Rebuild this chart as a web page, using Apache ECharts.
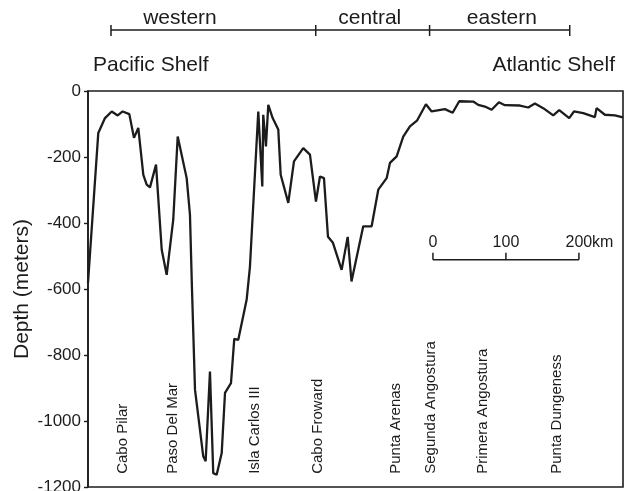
<!DOCTYPE html>
<html>
<head>
<meta charset="utf-8">
<script src="https://cdn.jsdelivr.net/npm/echarts@6/dist/echarts.min.js"></script>
<style>
  html, body { margin: 0; padding: 0; background: #ffffff; }
  #chart { width: 633px; height: 491px; }
</style>
</head>
<body>
<div id="chart"></div>
<script>
// Bathymetric profile along the Strait of Magellan, Pacific shelf to Atlantic shelf.
// Along-strait distance (km from the western end of the profile)
const distanceKm = [
  0, 14.1, 23.3, 32.5, 34.7, 40.7, 47.5, 56.6, 63.0, 68.9,
  75.8, 80.4, 84.9, 93.2, 101.0, 107.8, 116.8, 122.9, 135.2, 139.7,
  142.5, 146.6, 157.9, 161.2, 167.1, 171.6, 176.3, 183.2, 187.7, 195.9,
  200.4, 205.9, 217.4, 221.9, 233.3, 238.8, 240.1, 243.8, 247.0, 253.0,
  260.7, 264.0, 274.4, 282.2, 294.9, 304.1, 312.3, 317.8, 323.3, 328.8,
  335.6, 347.5, 355.8, 361.0, 377.1, 388.6, 397.7, 409.2, 413.7, 422.9,
  431.9, 441.1, 450.7, 463.0, 470.8, 489.0, 499.6, 508.6, 527.8, 534.7,
  543.8, 553.0, 563.0, 571.2, 591.8, 603.2, 612.3, 623.7, 637.4, 645.6,
  659.3, 665.8, 678.5, 694.5, 696.8, 708.2, 721.9, 733
];
// Water depth (m) at each distance
const depthM = [
  -581, -127, -82, -62, -57, -74, -62, -70, -142, -112,
  -254, -284, -292, -223, -481, -557, -390, -138, -264, -375,
  -602, -905, -1107, -1122, -850, -1158, -1163, -1097, -915, -885,
  -751, -754, -632, -532, -62, -289, -72, -168, -42, -82,
  -117, -254, -339, -213, -173, -193, -335, -259, -264, -442,
  -460, -542, -442, -577, -410, -410, -299, -264, -218, -198,
  -138, -107, -90, -40, -62, -55, -66, -31, -32, -42,
  -47, -57, -34, -43, -44, -50, -38, -52, -74, -58,
  -82, -62, -67, -79, -52, -72, -74, -80
];

// Depth axis ticks
const depthMin = -1200;
const depthMax = 0;
const depthStep = 200;
const distanceMax = 733;

// Sections of the strait (boundaries in km) and their names
const sectionBoundsKm = [31.5, 312, 468, 660];
const sectionNames = ['western', 'central', 'eastern'];
const sectionLabelKm = [126, 386, 567];

// Shelf names at both ends
const shelfNames = ['Pacific Shelf', 'Atlantic Shelf'];

// Place names along the strait
const stationNames = [
  'Cabo Pilar', 'Paso Del Mar', 'Isla Carlos III', 'Cabo Froward',
  'Punta Arenas', 'Segunda Angostura', 'Primera Angostura', 'Punta Dungeness'
];
const stationKm = [47.9, 116.4, 228.8, 315, 421.9, 469.9, 541, 642.5];
const stationBaseDepth = -1160;

// Distance scale bar
const scaleBarStartKm = 472.6;
const scaleBarTicks = [0, 100, 200];
const scaleBarUnit = 'km';
const scaleBarDepth = -511;

const FONT = "'Liberation Sans', Arial, Helvetica, sans-serif";
const INK = '#1c1c1c';

const chart = echarts.init(document.getElementById('chart'), null, { renderer: 'canvas' });

const profile = distanceKm.map((d, i) => [d, depthM[i]]);

chart.setOption({
  animation: false,
  backgroundColor: '#ffffff',
  grid: {
    left: 88, right: 10, top: 91, bottom: 4,
    containLabel: false, outerBoundsMode: 'none',
    show: true, borderColor: INK, borderWidth: 1.6, backgroundColor: 'transparent'
  },
  xAxis: {
    type: 'value', min: 0, max: distanceMax,
    axisLine: { show: false }, axisTick: { show: false },
    axisLabel: { show: false }, splitLine: { show: false }
  },
  yAxis: {
    type: 'value', min: depthMin, max: depthMax, interval: depthStep,
    name: 'Depth (meters)', nameLocation: 'middle', nameRotate: 90, nameGap: 55,
    nameMoveOverlap: false,
    nameTextStyle: { fontFamily: FONT, fontSize: 21, color: INK },
    axisLine: { show: true, lineStyle: { color: INK, width: 1.6 } },
    axisTick: { show: true, inside: false, length: 4, lineStyle: { color: INK, width: 1.4 } },
    axisLabel: { fontFamily: FONT, fontSize: 17, color: INK, margin: 7, formatter: v => String(v) },
    splitLine: { show: false }
  },
  series: [{
    type: 'line',
    data: profile,
    showSymbol: false,
    lineStyle: { color: INK, width: 2.3 },
    z: 3
  }]
});

const px = km => chart.convertToPixel({ gridIndex: 0 }, [km, 0])[0];
const py = d => chart.convertToPixel({ gridIndex: 0 }, [0, d])[1];

const g = [];
const line = (x1, y1, x2, y2, w) => g.push({
  type: 'line', silent: true,
  shape: { x1, y1, x2, y2 },
  style: { stroke: INK, lineWidth: w || 1.5 }
});
const text = (t, x, y, size, align, rot) => g.push({
  type: 'text', silent: true, x, y, rotation: rot || 0,
  style: { text: t, fontFamily: FONT, fontSize: size, fill: INK, align: align || 'center', verticalAlign: 'middle' }
});

// Section bar above the plot
const barY = 30;
line(px(sectionBoundsKm[0]), barY, px(sectionBoundsKm[sectionBoundsKm.length - 1]), barY, 1.5);
sectionBoundsKm.forEach(k => line(px(k), barY - 5, px(k), barY + 6, 1.5));
sectionNames.forEach((n, i) => text(n, px(sectionLabelKm[i]), 18, 21, 'center'));

// Shelf labels
text(shelfNames[0], px(0) + 5, 65, 21, 'left');
text(shelfNames[1], px(distanceMax) - 8, 65, 21, 'right');

// Vertical place names
stationNames.forEach((n, i) => text(n, px(stationKm[i]), py(stationBaseDepth), 15, 'left', Math.PI / 2));

// Scale bar
const sbY = py(scaleBarDepth);
const sbX0 = px(scaleBarStartKm);
const sbX1 = px(scaleBarStartKm + scaleBarTicks[scaleBarTicks.length - 1]);
line(sbX0, sbY, sbX1, sbY, 1.5);
scaleBarTicks.forEach((t, i) => {
  const x = px(scaleBarStartKm + t);
  line(x, sbY - 7, x, sbY, 1.5);
  text(String(t), x, sbY - 17, 16, 'center');
  if (i === scaleBarTicks.length - 1) {
    text(scaleBarUnit, x + 13, sbY - 17, 16, 'left');
  }
});

chart.setOption({ graphic: { elements: g } });
</script>
</body>
</html>
